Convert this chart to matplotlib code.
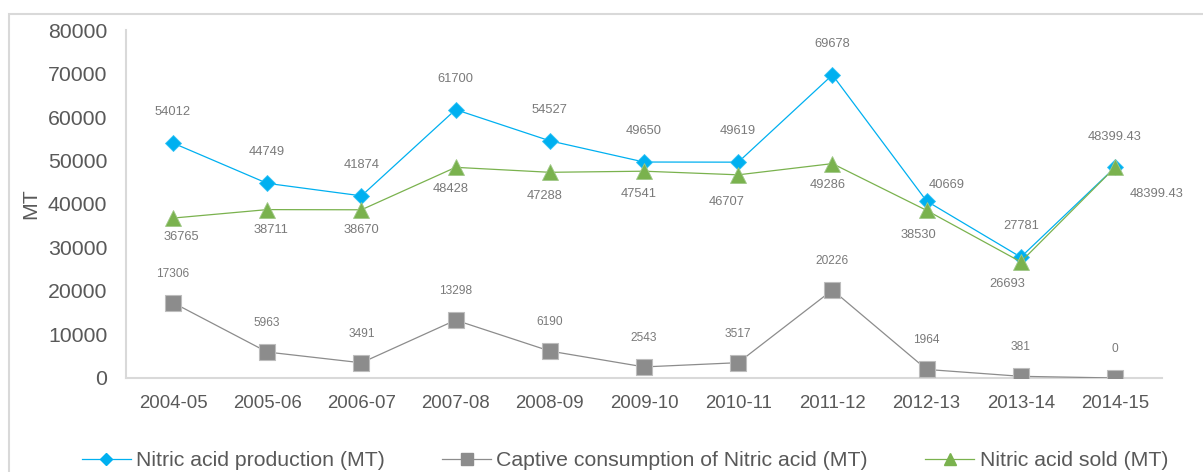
import matplotlib.pyplot as plt
from matplotlib.lines import Line2D
from matplotlib.patches import Rectangle

plt.rcParams['font.family'] = ['Liberation Sans', 'DejaVu Sans']

years = ['2004-05', '2005-06', '2006-07', '2007-08', '2008-09', '2009-10',
         '2010-11', '2011-12', '2012-13', '2013-14', '2014-15']
production = [54012, 44749, 41874, 61700, 54527, 49650, 49619, 69678, 40669, 27781, 48399.43]
captive = [17306, 5963, 3491, 13298, 6190, 2543, 3517, 20226, 1964, 381, 0]
sold = [36765, 38711, 38670, 48428, 47288, 47541, 46707, 49286, 38530, 26693, 48399.43]

prod_labels = ['54012', '44749', '41874', '61700', '54527', '49650', '49619',
               '69678', '40669', '27781', '48399.43']
capt_labels = ['17306', '5963', '3491', '13298', '6190', '2543', '3517',
               '20226', '1964', '381', '0']
sold_labels = ['36765', '38711', '38670', '48428', '47288', '47541', '46707',
               '49286', '38530', '26693', '48399.43']

# label offsets in pixels (dx, dy), as placed in the original
prod_off = [(0, 31)] * 8 + [(20, 16), (0, 31), (0, 30)]
sold_off = [(8, -19), (4, -20), (0, -20), (-5, -22), (-5, -24), (-5, -23),
            (-12, -27), (-5, -21), (-8, -25), (-14, -22), (42, -27)]
capt_off = [(0, -29)]

blue = '#00B0F0'
gray = '#8C8C8C'
green = '#7AB24E'
txt = '#7A7A7A'
tick = '#595959'

fig = plt.figure(figsize=(12.03, 4.72), dpi=100)
ax = fig.add_axes([0.1047, 0.1992, 0.8613, 0.7372])

# outer chart border
fig.patches.append(Rectangle((9 / 1203, -0.05), 1.1, (472 - 14) / 472 + 0.05,
                             transform=fig.transFigure, fill=False,
                             edgecolor='#D9D9D9', linewidth=1.5))

x = list(range(len(years)))
ax.plot(x, production, color=blue, lw=0.9, marker='D', ms=8.2,
        mfc=blue, mec='#33C3F5', mew=0.6, zorder=3)
ax.plot(x, captive, color=gray, lw=0.9, marker='s', ms=11.5,
        mfc=gray, mec='#BDBDBD', mew=0.8, zorder=3)
ax.plot(x, sold, color=green, lw=0.9, marker='^', ms=11.5,
        mfc=green, mec='#A0C888', mew=0.6, zorder=4)

for i in x:
    dx, dy = prod_off[i]
    ax.annotate(prod_labels[i], (i, production[i]), xytext=(dx, dy),
                textcoords='offset pixels', ha='center', va='center',
                fontsize=9.3, color=txt)
    dx, dy = sold_off[i]
    ax.annotate(sold_labels[i], (i, sold[i]), xytext=(dx, dy),
                textcoords='offset pixels', ha='center', va='center',
                fontsize=9.3, color=txt)
    dx, dy = capt_off[0]
    ax.annotate(capt_labels[i], (i, captive[i]), xytext=(dx, -dy),
                textcoords='offset pixels', ha='center', va='center',
                fontsize=8.6, color=txt)

ax.set_xlim(-0.5, len(years) - 0.5)
ax.set_ylim(0, 80000)
ax.set_yticks(range(0, 80001, 10000))
ax.set_xticks(x)
ax.set_xticklabels(years)

for s in ['top', 'right']:
    ax.spines[s].set_visible(False)
for s in ['left', 'bottom']:
    ax.spines[s].set_color('#D9D9D9')
    ax.spines[s].set_linewidth(1.5)

ax.tick_params(axis='y', length=0, pad=13.5, labelsize=15.3, labelcolor=tick)
ax.tick_params(axis='x', length=0, pad=12, labelsize=13.4, labelcolor=tick)
ax.set_ylabel('MT', fontsize=15.3, color=tick, labelpad=4)
ax.yaxis.set_label_coords(-0.083, 0.50)

handles = [
    Line2D([], [], color=blue, lw=0.9, marker='D', ms=6, mfc=blue, mec=blue),
    Line2D([], [], color=gray, lw=0.9, marker='s', ms=8, mfc=gray, mec=gray),
    Line2D([], [], color=green, lw=0.9, marker='^', ms=8, mfc=green, mec=green),
]
names = ['Nitric acid production (MT)', 'Captive consumption of Nitric acid (MT)',
         'Nitric acid sold (MT)']
leg = fig.legend(handles, names, ncol=3, loc='center',
                 bbox_to_anchor=(0.5195, 11.5 / 472), frameon=False,
                 fontsize=15.3, columnspacing=2.7, handlelength=2.3,
                 handletextpad=0.25, borderaxespad=0)
for t in leg.get_texts():
    t.set_color(tick)

fig.savefig('out.png', dpi=100)
